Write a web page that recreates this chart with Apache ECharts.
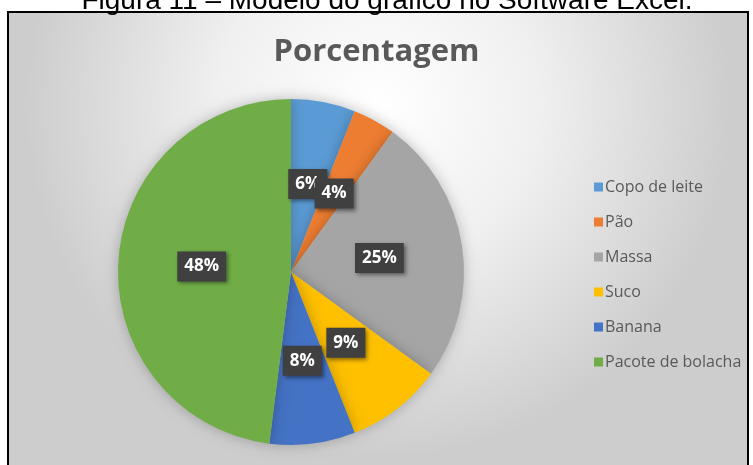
<!DOCTYPE html>
<html>
<head>
<meta charset="utf-8">
<script src="https://cdn.jsdelivr.net/npm/echarts@6/dist/echarts.min.js"></script>
<style>
  html, body { margin: 0; padding: 0; background: #fff; }
  #main { width: 753px; height: 465px; }
</style>
</head>
<body>
<div id="main"></div>
<script>
  // dados do grafico
  var categorias = ['Copo de leite', 'Pão', 'Massa', 'Suco', 'Banana', 'Pacote de bolacha']
  var porcentagens = [6, 4, 25, 9, 8, 48]
  var cores = ['#5B9BD5', '#ED7D31', '#A5A5A5', '#FFC000', '#4472C4', '#70AD47']

  var chart = echarts.init(document.getElementById('main'))

  var dados = categorias.map(function (nome, i) {
    return { name: nome, value: porcentagens[i], itemStyle: { color: cores[i] } }
  })

  chart.setOption({
    animation: false,
    graphic: [
      {
        type: 'rect', z: -10, silent: true,
        shape: { x: 8, y: 12, width: 740, height: 470 },
        style: {
          fill: {
            type: 'radial', x: 0.5, y: 0.2, r: 0.75,
            colorStops: [
              { offset: 0, color: '#ffffff' },
              { offset: 0.45, color: '#f0f0f0' },
              { offset: 1, color: '#cdcdcd' }
            ]
          },
          stroke: '#000', lineWidth: 2
        }
      },
      {
        // legenda da figura, cortada no topo
        type: 'text', silent: true,
        x: 387, y: -13,
        style: {
          text: 'Figura 11 – Modelo do gráfico no Software Excel.',
          font: '28px "Liberation Sans", Arial, sans-serif',
          fill: '#000',
          align: 'center',
          verticalAlign: 'top'
        }
      }
    ],
    title: {
      text: 'Porcentagem',
      left: 'center',
      top: 32,
      textStyle: {
        fontFamily: 'Open Sans',
        fontSize: 31,
        fontWeight: 'bold',
        color: '#595959'
      }
    },
    legend: {
      orient: 'vertical',
      left: 589,
      top: 174,
      itemGap: 19,
      itemWidth: 9,
      itemHeight: 9,
      icon: 'rect',
      data: categorias,
      textStyle: {
        fontFamily: 'Open Sans',
        fontSize: 16,
        color: '#595959',
        padding: [0, 0, 0, -3]
      }
    },
    series: [
      {
        name: 'Porcentagem',
        type: 'pie',
        center: [291, 272],
        radius: 173,
        startAngle: 90,
        clockwise: true,
        itemStyle: {
          shadowBlur: 14,
          shadowColor: 'rgba(0,0,0,0.25)'
        },
        label: {
          show: true,
          position: 'inside',
          formatter: '{c}%',
          color: '#fff',
          fontFamily: 'Open Sans',
          fontWeight: 'bold',
          fontSize: 17,
          backgroundColor: '#404040',
          padding: [7, 7, 6, 7],
          shadowBlur: 4,
          shadowOffsetX: 2,
          shadowOffsetY: 2,
          shadowColor: 'rgba(0,0,0,0.45)'
        },
        labelLayout: { hideOverlap: false },
        labelLine: { show: false },
        emphasis: { disabled: true },
        data: dados
      }
    ]
  })
</script>
</body>
</html>
